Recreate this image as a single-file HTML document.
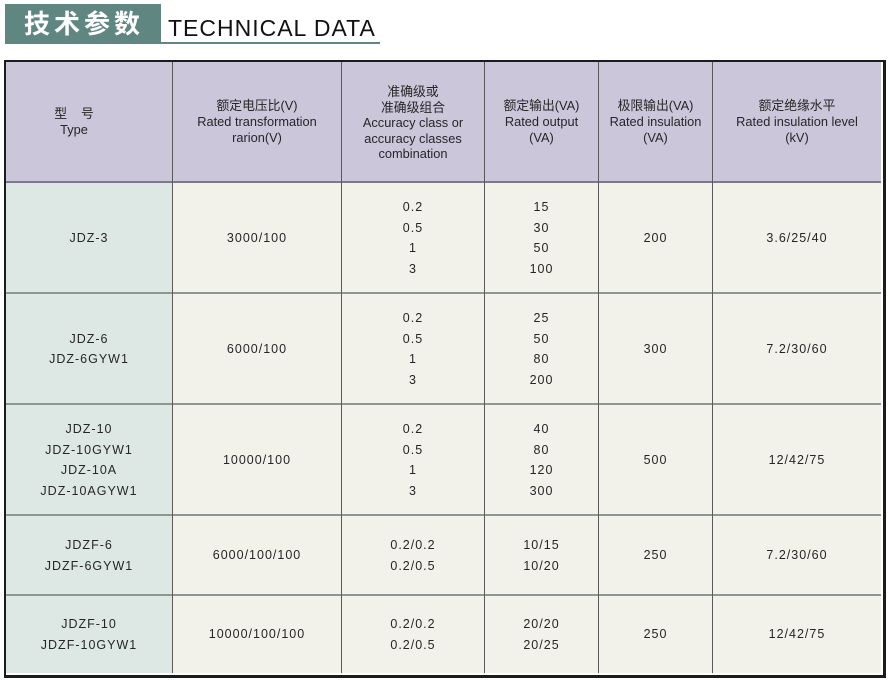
<!DOCTYPE html>
<html><head><meta charset="utf-8">
<style>
html,body{margin:0;padding:0;background:#fff;}
body{width:890px;height:680px;position:relative;overflow:hidden;font-family:"Liberation Sans","Noto Sans CJK SC",sans-serif;color:#2a2a2a;}
.abs{position:absolute;}
.cell{position:absolute;display:flex;flex-direction:column;align-items:center;justify-content:center;text-align:center;}
.h{font-size:12.8px;line-height:15.5px;color:#262626;}
.d{font-size:12.5px;line-height:20.5px;letter-spacing:1px;color:#262626;}
.vl{position:absolute;width:1px;background:#5a5a5a;top:62px;height:611px;}
.hl{position:absolute;left:6px;width:875px;height:2px;background:#8e9893;}
</style></head><body>
<!-- title -->
<div class="abs" style="left:5px;top:4px;width:156px;height:40px;background:#5f8681;"></div>
<div class="abs" style="left:24px;top:8px;font-size:26px;line-height:32px;font-weight:bold;color:#fff;letter-spacing:4px;font-family:'Liberation Sans','Noto Sans CJK SC',sans-serif;">技术参数</div>
<div class="abs" style="left:161px;top:42px;width:219px;height:2px;background:#5f8681;"></div>
<div class="abs" style="left:168px;top:14px;font-size:23px;line-height:28px;color:#111;letter-spacing:1px;">TECHNICAL DATA</div>

<!-- table frame -->
<div class="abs" style="left:4px;top:60px;width:877px;height:613px;border-left:2px solid #1c1c1c;border-top:2px solid #1c1c1c;border-right:3px solid #1c1c1c;border-bottom:3px solid #1c1c1c;"></div>
<!-- fills -->
<div class="abs" style="left:6px;top:62px;width:875px;height:120px;background:#cbc6da;"></div>
<div class="abs" style="left:6px;top:182px;width:166px;height:491px;background:#dde7e3;"></div>
<div class="abs" style="left:172px;top:182px;width:709px;height:491px;background:#f2f2ea;"></div>

<!-- horizontal lines -->
<div class="hl" style="top:181px;background:#7c7a86;"></div>
<div class="hl" style="top:292px;"></div>
<div class="hl" style="top:403px;"></div>
<div class="hl" style="top:514px;"></div>
<div class="hl" style="top:594px;"></div>
<!-- vertical lines -->
<div class="vl" style="left:172px;"></div>
<div class="vl" style="left:341px;"></div>
<div class="vl" style="left:484px;"></div>
<div class="vl" style="left:598px;"></div>
<div class="vl" style="left:712px;"></div>

<!-- header -->
<div class="cell h" style="left:6px;top:62px;width:136px;height:120px;line-height:16px;"><div style="letter-spacing:14px;margin-right:-14px;">型号</div><div>Type</div></div>
<div class="cell h" style="left:173px;top:62px;width:168px;height:120px;line-height:16px;"><div>额定电压比(V)</div><div>Rated transformation</div><div>rarion(V)</div></div>
<div class="cell h" style="left:342px;top:62px;width:142px;height:122px;"><div>准确级或</div><div>准确级组合</div><div>Accuracy class or</div><div>accuracy classes</div><div>combination</div></div>
<div class="cell h" style="left:485px;top:62px;width:113px;height:120px;line-height:16px;"><div>额定输出(VA)</div><div>Rated output</div><div>(VA)</div></div>
<div class="cell h" style="left:599px;top:62px;width:113px;height:120px;line-height:16px;"><div>极限输出(VA)</div><div>Rated insulation</div><div>(VA)</div></div>
<div class="cell h" style="left:713px;top:62px;width:168px;height:120px;line-height:16px;"><div>额定绝缘水平</div><div>Rated insulation level</div><div>(kV)</div></div>

<!-- row 1 -->
<div class="cell d" style="left:6px;top:183px;width:166px;height:110px;"><div>JDZ-3</div></div>
<div class="cell d" style="left:173px;top:183px;width:168px;height:110px;"><div>3000/100</div></div>
<div class="cell d" style="left:342px;top:183px;width:142px;height:110px;"><div>0.2</div><div>0.5</div><div>1</div><div>3</div></div>
<div class="cell d" style="left:485px;top:183px;width:113px;height:110px;"><div>15</div><div>30</div><div>50</div><div>100</div></div>
<div class="cell d" style="left:599px;top:183px;width:113px;height:110px;"><div>200</div></div>
<div class="cell d" style="left:713px;top:183px;width:168px;height:110px;"><div>3.6/25/40</div></div>

<!-- row 2 -->
<div class="cell d" style="left:6px;top:294px;width:166px;height:110px;"><div>JDZ-6</div><div>JDZ-6GYW1</div></div>
<div class="cell d" style="left:173px;top:294px;width:168px;height:110px;"><div>6000/100</div></div>
<div class="cell d" style="left:342px;top:294px;width:142px;height:110px;"><div>0.2</div><div>0.5</div><div>1</div><div>3</div></div>
<div class="cell d" style="left:485px;top:294px;width:113px;height:110px;"><div>25</div><div>50</div><div>80</div><div>200</div></div>
<div class="cell d" style="left:599px;top:294px;width:113px;height:110px;"><div>300</div></div>
<div class="cell d" style="left:713px;top:294px;width:168px;height:110px;"><div>7.2/30/60</div></div>

<!-- row 3 -->
<div class="cell d" style="left:6px;top:405px;width:166px;height:110px;"><div>JDZ-10</div><div>JDZ-10GYW1</div><div>JDZ-10A</div><div>JDZ-10AGYW1</div></div>
<div class="cell d" style="left:173px;top:405px;width:168px;height:110px;"><div>10000/100</div></div>
<div class="cell d" style="left:342px;top:405px;width:142px;height:110px;"><div>0.2</div><div>0.5</div><div>1</div><div>3</div></div>
<div class="cell d" style="left:485px;top:405px;width:113px;height:110px;"><div>40</div><div>80</div><div>120</div><div>300</div></div>
<div class="cell d" style="left:599px;top:405px;width:113px;height:110px;"><div>500</div></div>
<div class="cell d" style="left:713px;top:405px;width:168px;height:110px;"><div>12/42/75</div></div>

<!-- row 4 -->
<div class="cell d" style="left:6px;top:516px;width:166px;height:79px;"><div>JDZF-6</div><div>JDZF-6GYW1</div></div>
<div class="cell d" style="left:173px;top:516px;width:168px;height:79px;"><div>6000/100/100</div></div>
<div class="cell d" style="left:342px;top:516px;width:142px;height:79px;"><div>0.2/0.2</div><div>0.2/0.5</div></div>
<div class="cell d" style="left:485px;top:516px;width:113px;height:79px;"><div>10/15</div><div>10/20</div></div>
<div class="cell d" style="left:599px;top:516px;width:113px;height:79px;"><div>250</div></div>
<div class="cell d" style="left:713px;top:516px;width:168px;height:79px;"><div>7.2/30/60</div></div>

<!-- row 5 -->
<div class="cell d" style="left:6px;top:596px;width:166px;height:77px;"><div>JDZF-10</div><div>JDZF-10GYW1</div></div>
<div class="cell d" style="left:173px;top:596px;width:168px;height:77px;"><div>10000/100/100</div></div>
<div class="cell d" style="left:342px;top:596px;width:142px;height:77px;"><div>0.2/0.2</div><div>0.2/0.5</div></div>
<div class="cell d" style="left:485px;top:596px;width:113px;height:77px;"><div>20/20</div><div>20/25</div></div>
<div class="cell d" style="left:599px;top:596px;width:113px;height:77px;"><div>250</div></div>
<div class="cell d" style="left:713px;top:596px;width:168px;height:77px;"><div>12/42/75</div></div>
</body></html>
